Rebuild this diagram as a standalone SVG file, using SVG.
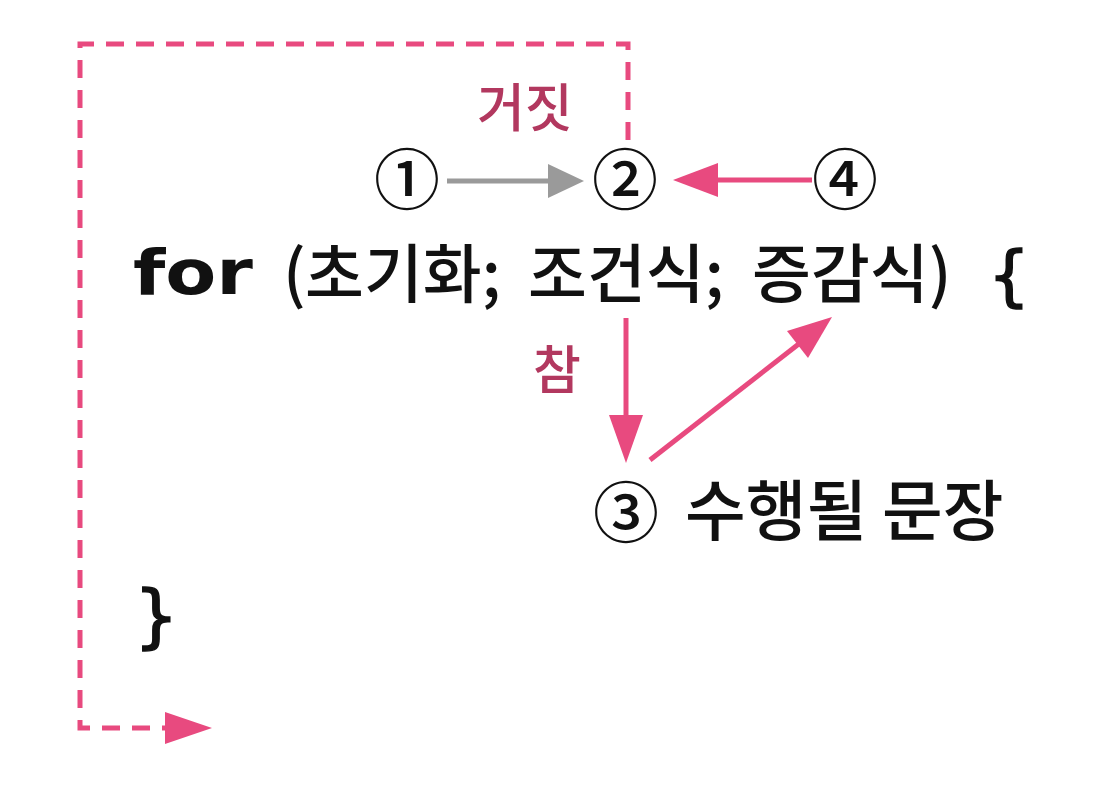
<svg xmlns="http://www.w3.org/2000/svg" width="1114" height="786" viewBox="0 0 1114 786">
<style>
.code{font-family:"DejaVu Sans","Noto Sans CJK KR",sans-serif;font-weight:bold;fill:#111}
.brace{font-family:"DejaVu Sans",sans-serif;font-weight:normal;fill:#111;stroke:#111;stroke-width:1.5}
.kr{font-family:"Noto Sans CJK KR","Noto Sans",sans-serif;font-weight:500;fill:#111}
.lbl{font-family:"Noto Sans CJK KR",sans-serif;font-weight:500;fill:#b2385f;font-size:52px}
.num{font-family:"Noto Sans CJK KR",sans-serif;font-weight:500;fill:#111;font-size:66px;text-anchor:middle}
.pink{stroke:#e84a7f;stroke-width:5;fill:none}
.dash{stroke:#e84a7f;stroke-width:5;fill:none;stroke-dasharray:18 12}
.gray{stroke:#9a9a9a;stroke-width:5;fill:none}
</style>
<rect width="1114" height="786" fill="#ffffff"/>
<g id="connectors">
  <path class="dash" d="M628,140 V44 H80 V728 H168"/>
  <polygon points="165,712 212,728 165,744" fill="#e84a7f"/>
  <line class="gray" x1="447" y1="181" x2="552" y2="181"/>
  <polygon points="548,164 584,181 548,198" fill="#9a9a9a"/>
  <line class="pink" x1="812" y1="180" x2="714" y2="180"/>
  <polygon points="718,163 673,180 718,197" fill="#e84a7f"/>
  <line class="pink" x1="626" y1="318" x2="626" y2="420"/>
  <polygon points="609,415 626,463 643,415" fill="#e84a7f"/>
  <line class="pink" x1="650" y1="460" x2="800" y2="343"/>
  <polygon points="787,331 832,317 808,358" fill="#e84a7f"/>
</g>
<g id="label-false"><text class="lbl" x="477" y="127">거짓</text></g>
<g id="label-true"><text class="lbl" x="533" y="389">참</text></g>
<g id="n1"><text class="num" x="407" y="204">①</text></g>
<g id="n2"><text class="num" x="625" y="204">②</text></g>
<g id="n4"><text class="num" x="845" y="204">④</text></g>
<g id="for-line">
  <text class="code" font-size="62" x="133" y="294" textLength="120" lengthAdjust="spacingAndGlyphs">for</text>
  <text class="kr" font-size="64" y="297"><tspan x="283">(</tspan><tspan x="305">초기화;</tspan><tspan x="528">조건식;</tspan><tspan x="752">증감식)</tspan></text>
  <text class="brace" font-size="66" x="988" y="298">{</text>
</g>
<g id="n3">
  <text class="num" x="626" y="537">③</text>
  <text class="kr" font-size="66" x="685" y="535">수행될 문장</text>
</g>
<g id="close-brace"><text class="brace" font-size="70" x="134" y="640">}</text></g>
</svg>
